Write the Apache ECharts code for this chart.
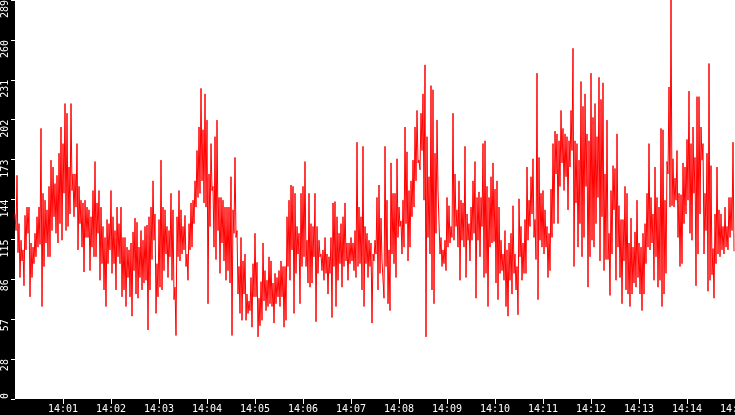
<!DOCTYPE html>
<html>
<head>
<meta charset="utf-8">
<title>rate</title>
<script src="https://cdn.jsdelivr.net/npm/echarts@6/dist/echarts.min.js"></script>
<style>
	body { margin: 0; background: #000; }
	#main { width: 735px; height: 415px; }
</style>
</head>
<body>
<div id="main"></div>
<script>
// samples every 1.25 s, from 14:00:00 (seconds since midnight)
var startSec = 14 * 3600;
var endSec = startSec + 15 * 60;
var stepSec = 1.25;
var yMax = 289;
var ySteps = 10;

// 14:00 - 14:02:30
var seg1 = [134,122, 162,106, 127,88, 115,100, 108,82, 133,108, 139,120, 139,74, 113,88, 110,98,
	120,103, 132,110, 139,112, 196,67, 149,96, 144,113, 137,103, 154,103, 173,122, 168,132,
	156,120, 162,113, 178,127, 197,115, 185,149, 214,122, 207,125, 168,134, 214,151, 163,132,
	163,139, 185,108, 154,127, 144,110, 142,92, 144,117, 139,117, 137,93, 132,110, 151,103,
	172,103, 142,120, 151,86, 139,98, 125,79, 117,67, 130,98, 127,108, 151,91, 132,98,
	122,79, 139,103, 127,98, 139,74, 117,79, 117,67, 110,88, 108,74, 113,60, 121,93];
// 14:02:30 - 14:05
var seg2 = [131,76, 128,73, 110,88, 122,79, 115,84, 125,86, 126,50, 132,79, 139,101, 158,115,
	134,62, 98,74, 130,81, 173,79, 139,93, 137,105, 125,88, 122,103, 149,86, 137,72,
	81,46, 132,103, 151,100, 137,105, 125,108, 133,96, 105,86, 127,108, 142,110, 144,127,
	158,139, 180,146, 197,149, 225,158, 195,142, 221,139, 202,69, 163,125, 185,151, 154,110,
	190,101, 202,122, 146,91, 146,113, 144,100, 139,86, 139,93, 139,84, 161,46, 137,120,
	175,117, 122,76, 96,62, 117,57, 100,76, 105,57, 76,62, 71,64, 88,52, 98,74];
// 14:05 - 14:07:30
var seg3 = [120,74, 99,45, 73,53, 85,57, 113,71, 93,64, 86,67, 103,69, 100,67, 84,55,
	91,69, 88,74, 93,67, 100,74, 96,52, 96,57, 132,96, 144,86, 155,108, 154,62,
	149,91, 125,105, 120,69, 149,96, 154,103, 172,96, 115,84, 149,81, 127,84, 125,103,
	149,56, 125,91, 115,103, 105,93, 108,86, 117,91, 105,76, 103,91, 117,59, 142,96,
	143,67, 132,86, 120,98, 127,81, 132,96, 142,100, 113,86, 113,98, 117,100, 113,93,
	122,88, 186,96, 139,98, 132,79, 183,67, 125,98, 120,88, 115,96, 113,55, 105,100];
// 14:07:30 - 14:10
var seg4 = [115,105, 146,79, 155,91, 131,100, 100,73, 183,96, 144,69, 108,64, 171,105, 149,98,
	149,88, 174,117, 139,125, 129,105, 144,110, 197,127, 179,100, 151,110, 158,132, 173,139,
	197,158, 209,171, 173,166, 207,180, 221,144, 242,45, 190,117, 161,105, 227,79, 224,69,
	178,120, 202,151, 151,105, 117,96, 108,98, 115,93, 146,110, 140,113, 125,117, 207,115,
	163,125, 137,110, 158,86, 144,115, 142,110, 183,88, 134,115, 127,100, 139,115, 158,120,
	172,73, 146,115, 150,103, 146,125, 185,88, 187,91, 154,67, 146,110, 161,113, 171,114];
// 14:10 - 14:12:30
var seg5 = [152,84, 158,72, 139,91, 115,93, 105,86, 122,67, 108,60, 113,86, 120,76, 140,91,
	105,79, 96,61, 145,103, 125,86, 113,91, 130,91, 168,115, 144,125, 161,134, 174,117,
	130,101, 236,72, 175,115, 149,110, 151,105, 137,110, 125,88, 120,93, 152,117, 185,127,
	194,163, 192,127, 187,154, 209,171, 196,151, 192,161, 190,137, 187,168, 209,180, 254,96,
	187,142, 185,110, 173,127, 230,103, 212,117, 221,154, 192,81, 187,103, 236,115, 204,110,
	214,127, 190,146, 233,100, 217,132, 229,93, 163,101, 202,101, 120,75, 151,105, 169,137];
// 14:12:30 - 14:15
var seg6 = [167,86, 192,110, 140,88, 130,69, 130,100, 154,79, 149,76, 113,67, 131,76, 110,84,
	121,81, 144,88, 113,76, 110,64, 120,76, 127,98, 149,110, 185,108, 146,113, 134,86,
	168,103, 146,81, 139,86, 196,67, 195,76, 144,91, 172,163, 226,139, 289,140, 174,139,
	160,144, 180,117, 149,96, 148,98, 171,127, 168,134, 188,144, 223,120, 185,115, 197,149,
	175,82, 219,105, 219,134, 197,173, 185,105, 149,122, 178,78, 243,86, 169,90, 109,73,
	134,98, 168,105, 137,103, 134,108, 125,105, 139,110, 125,108, 146,117, 146,122, 186,107];

var counts = seg1.concat(seg2, seg3, seg4, seg5, seg6);

function pad2(n) {
	return (n < 10 ? '0' : '') + n;
}
function timeLabel(sec) {
	var h = Math.floor(sec / 3600);
	var m = Math.floor((sec % 3600) / 60);
	return h + ':' + pad2(m);
}

var lineData = [];
for (var i = 0; i < counts.length; i++) {
	lineData.push([startSec + i * stepSec, counts[i]]);
}

var labelFont = {
	color : '#ffffff',
	fontFamily : 'DejaVu Sans Mono',
	fontSize : 10
};

var myChart = echarts.init(document.getElementById('main'));
var option = {
	animation : false,
	backgroundColor : '#000000',
	grid : {
		left : 15,
		right : 0,
		top : 0,
		bottom : 16,
		containLabel : false,
		outerBoundsMode : 'none',
		show : true,
		backgroundColor : '#ffffff',
		borderWidth : 0
	},
	xAxis : {
		type : 'value',
		min : startSec,
		max : endSec,
		interval : 60,
		axisLine : { show : false },
		axisTick : { show : true, length : 5, lineStyle : { color : '#ffffff' } },
		splitLine : { show : false },
		axisLabel : {
			color : labelFont.color,
			fontFamily : labelFont.fontFamily,
			fontSize : labelFont.fontSize,
			margin : 5,
			showMinLabel : false,
			hideOverlap : false,
			formatter : function (v) { return timeLabel(v); }
		}
	},
	yAxis : {
		type : 'value',
		min : 0,
		max : yMax,
		interval : yMax / ySteps,
		axisLine : { show : false },
		axisTick : { show : true, length : 4, lineStyle : { color : '#ffffff' } },
		splitLine : { show : false },
		axisLabel : {
			color : labelFont.color,
			fontFamily : labelFont.fontFamily,
			fontSize : labelFont.fontSize,
			rotate : 90,
			align : 'right',
			alignMinLabel : 'left',
			verticalAlign : 'middle',
			margin : 10,
			formatter : function (v) { return String(Math.floor(v + 1e-6)); }
		}
	},
	series : [ {
		type : 'line',
		data : lineData,
		symbol : 'none',
		showSymbol : false,
		lineStyle : { color : '#ff0000', width : 1 },
		itemStyle : { color : '#ff0000' }
	} ]
};
myChart.setOption(option);
</script>
</body>
</html>
